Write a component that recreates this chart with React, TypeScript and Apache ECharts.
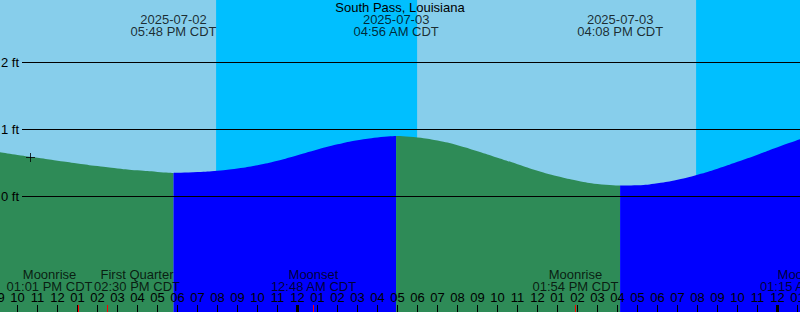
import React, { useEffect, useRef } from 'react';
import * as echarts from 'echarts';

// Hours counted from 2025-07-02 00:00 CDT; water level in feet
const stationName = 'South Pass, Louisiana';

const fall1Hours = [9, 10, 11, 12, 13, 14, 15, 16, 17, 17.8];
const fall1Feet = [0.665, 0.619, 0.578, 0.534, 0.494, 0.454, 0.419, 0.39, 0.367, 0.352];
const rise1Hours = [17.8, 19, 20, 21, 22, 23, 24, 25, 26, 27, 28, 28.93];
const rise1Feet = [0.352, 0.364, 0.385, 0.418, 0.467, 0.534, 0.616, 0.701, 0.778, 0.84, 0.882, 0.902];
const fall2Hours = [28.93, 30, 31, 32, 33, 34, 35, 36, 37, 38, 39, 40.13];
const fall2Feet = [0.902, 0.882, 0.836, 0.766, 0.676, 0.579, 0.482, 0.385, 0.303, 0.236, 0.187, 0.163];
const rise2Hours = [40.13, 41, 42, 43, 44, 45, 46, 47, 48, 49.13];
const rise2Feet = [0.163, 0.168, 0.199, 0.251, 0.325, 0.415, 0.519, 0.624, 0.736, 0.854];

const tideHours = [17.8, 28.933, 40.133];
const tideDates = ['2025-07-02', '2025-07-03', '2025-07-03'];
const tideClock = ['05:48 PM CDT', '04:56 AM CDT', '04:08 PM CDT'];

const nightStart = [19.93, 43.93];
const nightEnd = [29.98, 50];

const moonHours = [13.017, 14.5, 24.8, 37.9, 49.25];
const moonNames = ['Moonrise', 'First Quarter', 'Moonset', 'Moonrise', 'Moonset'];
const moonClock = ['01:01 PM CDT', '02:30 PM CDT', '12:48 AM CDT', '01:54 PM CDT', '01:15 AM CDT'];

const midnightHours = [24, 48];
const levelFeet = [2, 1, 0];
const levelLabels = ['2 ft', '1 ft', '0 ft'];

const nowHour = 10.65;
const nowFeet = 0.582;

const X_MIN = 9;
const X_MAX = 50;
const Y_MIN = -1.7239;
const Y_MAX = 2.9328;

const FONT = 'Liberation Sans';

function pairs(xs: number[], ys: number[]) {
  return xs.map((x, i) => [x, ys[i]]);
}

function hourLabel(v: number) {
  const h = ((Math.round(v) % 12) + 12) % 12;
  const hh = h === 0 ? 12 : h;
  return String(hh).padStart(2, '0');
}

function tideSeries(name: string, data: number[][], color: string, extra: any = {}) {
  return {
    name,
    type: 'line',
    z: 2,
    data,
    smooth: 0.5,
    symbol: 'none',
    lineStyle: { width: 0, color },
    areaStyle: { color, opacity: 1, origin: 'start' },
    silent: true,
    ...extra,
  };
}

export default function App() {
  const ref = useRef<HTMLDivElement>(null);

  useEffect(() => {
    document.body.style.margin = '0';
    if (!ref.current) return;
    const chart = echarts.init(ref.current, undefined, { renderer: 'svg' });

    const moonLabelDx = [-28.3, 29.5, 0, 0, 0];
    const tickTop = -1.619;

    const levelLines = levelFeet.map((f, i) => [
      { coord: [10.225, f], name: levelLabels[i] },
      { coord: [X_MAX, f] },
    ]);
    const moonTicks = moonHours.map((h) => [
      { coord: [h, Y_MIN], lineStyle: { color: '#ff0000', width: 1, type: 'solid' }, label: { show: false } },
      { coord: [h, tickTop] },
    ]);
    const midTicks = midnightHours.map((h) => [
      { coord: [h, Y_MIN], lineStyle: { color: '#000', width: 3, type: 'solid' }, label: { show: false } },
      { coord: [h, tickTop] },
    ]);

    const option: any = {
      animation: false,
      backgroundColor: '#87CEEB',
      textStyle: { fontFamily: FONT, fontSize: 13, color: '#000' },
      title: {
        text: stationName,
        left: 'center',
        top: 1,
        padding: 0,
        textStyle: { fontFamily: FONT, fontSize: 13, fontWeight: 'normal', color: '#000' },
      },
      grid: { left: -2.5, right: -17.5, top: 0, bottom: 0, containLabel: false, outerBoundsMode: 'none' },
      xAxis: {
        type: 'value',
        z: 10,
        position: 'bottom',
        min: X_MIN,
        max: X_MAX,
        interval: 1,
        axisLine: { show: false, onZero: false },
        splitLine: { show: false },
        axisTick: { show: true, inside: true, length: 7, lineStyle: { color: '#000', width: 1 } },
        axisLabel: {
          show: true,
          inside: true,
          margin: 8,
          hideOverlap: false,
          color: '#000',
          fontSize: 13,
          fontFamily: FONT,
          formatter: (v: number) => hourLabel(v),
        },
      },
      yAxis: { type: 'value', min: Y_MIN, max: Y_MAX, show: false },
      series: [
        tideSeries('fall1', pairs(fall1Hours, fall1Feet), '#2E8B57', {
          markArea: {
            silent: true,
            itemStyle: { color: '#00BFFF', opacity: 1 },
            data: nightStart.map((s, i) => [{ xAxis: s }, { xAxis: nightEnd[i] }]),
          },
        }),
        tideSeries('rise1', pairs(rise1Hours, rise1Feet), '#0000FF'),
        tideSeries('fall2', pairs(fall2Hours, fall2Feet), '#2E8B57'),
        tideSeries('rise2', pairs(rise2Hours, rise2Feet), '#0000FF', {
          markLine: {
            silent: true,
            z: 11,
            symbol: ['none', 'none'],
            lineStyle: { color: '#000', width: 1, type: 'solid' },
            label: {
              show: true,
              position: 'start',
              distance: 3,
              formatter: '{b}',
              color: '#000',
              fontSize: 13,
              fontFamily: FONT,
            },
            data: [...levelLines, ...midTicks, ...moonTicks],
          },
        }),
        {
          name: 'tideLabels',
          type: 'scatter',
          z: 6,
          symbolSize: 0,
          silent: true,
          data: tideHours.map((h, i) => ({ value: [h, 2.552], name: tideDates[i] + '\n' + tideClock[i] })),
          label: {
            show: true,
            position: 'inside',
            formatter: '{b}',
            color: '#000',
            fontSize: 13,
            fontFamily: FONT,
            lineHeight: 12,
            align: 'center',
            verticalAlign: 'middle',
          },
        },
        {
          name: 'moonLabels',
          type: 'scatter',
          z: 6,
          symbolSize: 0,
          silent: true,
          data: moonHours.map((h, i) => ({
            value: [h, -1.254],
            name: moonNames[i] + '\n' + moonClock[i],
            label: { offset: [moonLabelDx[i], 0] },
          })),
          label: {
            show: true,
            position: 'inside',
            formatter: '{b}',
            color: '#000',
            fontSize: 13,
            fontFamily: FONT,
            lineHeight: 12,
            align: 'center',
            verticalAlign: 'middle',
          },
        },
        {
          name: 'now',
          type: 'scatter',
          z: 7,
          silent: true,
          symbol: 'path://M0,5L10,5M5,0L5,10',
          symbolSize: 9,
          itemStyle: { color: 'rgba(0,0,0,0)', borderColor: '#000', borderWidth: 1 },
          data: [[nowHour, nowFeet]],
        },
      ],
    };

    chart.setOption(option);
    return () => chart.dispose();
  }, []);

  return <div ref={ref} style={{ width: 800, height: 312 }} />;
}
